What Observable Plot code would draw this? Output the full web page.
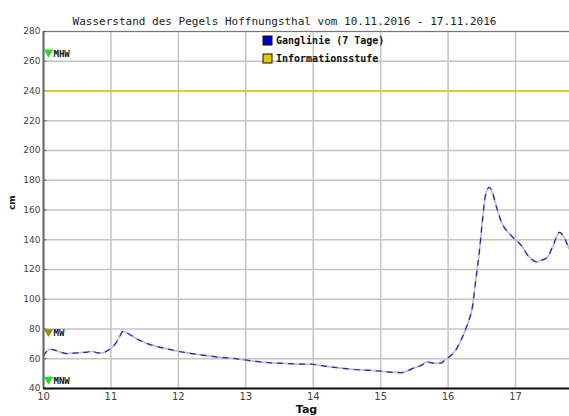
<!DOCTYPE html>
<html><head><meta charset="utf-8">
<script src="https://cdn.jsdelivr.net/npm/d3@7"></script>
<script src="https://cdn.jsdelivr.net/npm/@observablehq/plot@0.6"></script>
<style>body{margin:0;background:#fff}</style>
</head><body><div id="chart"></div>
<script>
const title = "Wasserstand des Pegels Hoffnungsthal vom 10.11.2016 - 17.11.2016";
const xTicks = [10, 11, 12, 13, 14, 15, 16, 17];
const yTicks = [40, 60, 80, 100, 120, 140, 160, 180, 200, 220, 240, 260, 280];
const days = [10.0, 10.05, 10.1, 10.15, 10.25, 10.35, 10.5, 10.65, 10.72, 10.8, 10.88, 10.95, 11.0, 11.08, 11.13, 11.18, 11.25, 11.4, 11.55, 11.7, 11.85, 12.0, 12.2, 12.4, 12.6, 12.8, 12.95, 13.1, 13.25, 13.5, 13.75, 14.0, 14.1, 14.26, 14.45, 14.6, 14.8, 15.0, 15.15, 15.3, 15.4, 15.5, 15.6, 15.69, 15.75, 15.89, 15.95, 16.01, 16.1, 16.19, 16.29, 16.36, 16.41, 16.46, 16.51, 16.55, 16.61, 16.66, 16.73, 16.8, 16.93, 17.08, 17.2, 17.32, 17.4, 17.47, 17.55, 17.65, 17.7, 17.79];
const levels = [62, 65, 66.5, 66, 64.5, 63.5, 64, 64.5, 65, 64, 64, 65.5, 67, 71, 75, 78.5, 77, 73, 70, 68, 66.5, 65, 63.5, 62.2, 61, 60.3, 59.5, 58.5, 57.7, 57, 56.5, 56.3, 55.5, 54.5, 53.5, 52.8, 52.3, 51.7, 51, 50.6, 52, 54, 55.5, 58, 57.2, 57, 59, 61, 65, 72.4, 83.6, 94.8, 112.8, 130.8, 153.3, 169, 175.3, 171.2, 160, 151, 143.1, 136.4, 128.5, 125.1, 126.5, 128.1, 135.3, 145, 143.1, 134.2];
const infoLevel = [240];
const markNames = ["MHW", "MW", "MNW"];
const markValues = [265, 77, 45];
const markColors = ["#22dd22", "#9a8a10", "#22dd22"];
const legendNames = ["Ganglinie (7 Tage)", "Informationsstufe"];
const legendColors = ["#0000c0", "#e6c800"];

const series = days.map((d, i) => ({day: d, level: levels[i]}));
const marks = markNames.map((n, i) => ({name: n, value: markValues[i], color: markColors[i]}));
const legend = legendNames.map((n, i) => ({name: n, color: legendColors[i]}));

const levelSymbol = {
  draw(ctx, size) {
    const r = Math.sqrt(size / Math.PI);
    ctx.moveTo(-r, -r * 0.75);
    ctx.lineTo(r, -r * 0.75);
    ctx.lineTo(0, r * 0.9);
    ctx.closePath();
    ctx.moveTo(-r * 1.1, -r * 1.05);
    ctx.lineTo(r * 1.1, -r * 1.05);
    ctx.lineTo(r * 1.1, -r * 0.7);
    ctx.lineTo(-r * 1.1, -r * 0.7);
    ctx.closePath();
  }
};

const mono = "DejaVu Sans Mono";
const chart = Plot.plot({
  width: 569,
  height: 416,
  marginLeft: 43,
  marginRight: 0,
  marginTop: 31,
  marginBottom: 28,
  style: {fontFamily: "DejaVu Sans", fontSize: "9px", color: "#444", background: "#fff"},
  x: {domain: [10, 17.8]},
  y: {domain: [40, 280]},
  marks: [
    Plot.gridX(xTicks, {stroke: "#c4c4c4", strokeOpacity: 1, strokeWidth: 1.5}),
    Plot.gridY(yTicks, {stroke: "#c4c4c4", strokeOpacity: 1, strokeWidth: 1.5}),
    Plot.ruleY([280], {stroke: "#777", strokeWidth: 1.2}),
    Plot.ruleY(yTicks, {x1: 10, x2: 10.05, stroke: "#666", strokeWidth: 1.2}),
    Plot.axisY({ticks: yTicks, tickSize: 0, tickPadding: 3, label: null, fill: "#444"}),
    Plot.axisX({ticks: xTicks, tickSize: 0, tickPadding: 4, label: null, fontSize: "10px", fill: "#444"}),
    Plot.ruleY(infoLevel, {stroke: "#e6c800", strokeWidth: 1.6}),
    Plot.line(series, {x: "day", y: "level", stroke: "#c2c2c2", strokeWidth: 1.8, curve: "monotone-x"}),
    Plot.line(series, {x: "day", y: "level", stroke: "#2020cc", strokeWidth: 1.2, strokeDasharray: "5,6", curve: "monotone-x"}),
    Plot.ruleX([10], {stroke: "#666", strokeWidth: 2}),
    Plot.ruleY([40], {stroke: "#111", strokeWidth: 2}),
    Plot.dot(marks, {x: () => 10, y: "value", dx: 5, r: 4, symbol: levelSymbol, fill: "color", stroke: "none"}),
    Plot.text(marks, {x: () => 10, y: "value", dx: 10, text: "name", textAnchor: "start", fontFamily: mono, fontWeight: "bold", fontSize: 9, fill: "#111"}),
    Plot.text([title], {frameAnchor: "top", dx: -22, dy: -14, fontFamily: mono, fontSize: 11, fill: "#222"}),
    Plot.text(["Tag"], {frameAnchor: "bottom", dy: 17, lineAnchor: "top", fontWeight: "bold", fontSize: 11, fill: "#111"}),
    Plot.text(["cm"], {frameAnchor: "left", dx: -31, dy: 0, rotate: -90, fontWeight: "bold", fontSize: 9, fill: "#111"})
  ]
});
document.getElementById("chart").append(chart);

// legend inside the plot area, built from the legend arrays
const svg = d3.select(chart);
const lg = svg.append("g").attr("font-family", mono).attr("font-weight", "bold")
  .attr("font-size", 10).attr("fill", "#111").attr("text-anchor", "start");
legend.forEach((d, i) => {
  lg.append("rect").attr("x", 263).attr("y", 36 + i * 18).attr("width", 9).attr("height", 9)
    .attr("fill", d.color).attr("stroke", "#111").attr("stroke-width", 1);
  lg.append("text").attr("x", 276).attr("y", 44 + i * 18).text(d.name);
});
</script>
</body></html>
